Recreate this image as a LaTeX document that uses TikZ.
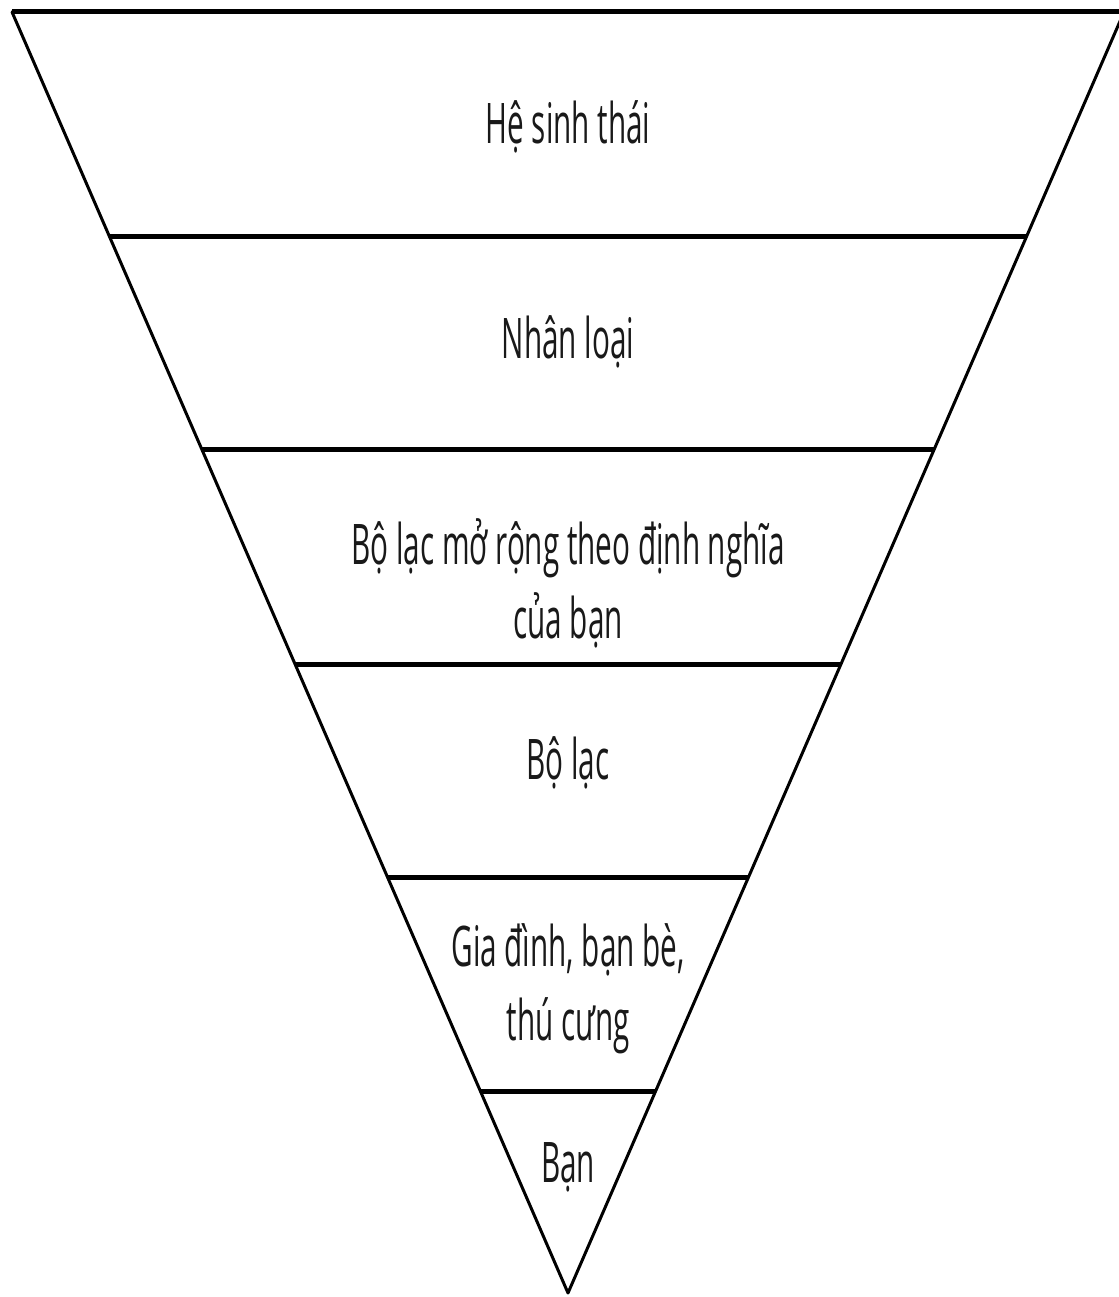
\documentclass[tikz,border=0pt]{standalone}
\usepackage{fontspec}
\newfontfamily\lbl[FakeStretch=0.53]{Open Sans}
\begin{document}
\begin{tikzpicture}[x=1pt,y=1pt,
  side/.style={line width=3pt,line cap=round,line join=round},
  band/.style={line width=5pt},
  lab/.style={font=\lbl\fontsize{56}{74}\selectfont,align=center,text=black!90,inner sep=0pt}]
\useasboundingbox (0,0) rectangle (1118,1297);
\coordinate (TL) at (12,1285);
\coordinate (TR) at (1124,1285);
\coordinate (AP) at (568,4);
% side points
\path (TL) -- (AP) coordinate[pos=0.1749] (L1) coordinate[pos=0.3412] (L2)
  coordinate[pos=0.5090] (L3) coordinate[pos=0.6760] (L4) coordinate[pos=0.8431] (L5);
\path (TR) -- (AP) coordinate[pos=0.1749] (R1) coordinate[pos=0.3412] (R2)
  coordinate[pos=0.5090] (R3) coordinate[pos=0.6760] (R4) coordinate[pos=0.8431] (R5);
\draw[side] (TL) -- (AP) -- (TR);
\draw[band] (TL) -- (TR);
\draw[band] (L1) -- (R1);
\draw[band] (L2) -- (R2);
\draw[band] (L3) -- (R3);
\draw[band] (L4) -- (R4);
\draw[band] (L5) -- (R5);
\node[lab] (n1) at (568,1170) {Hệ sinh thái};
\node[lab] (n2) at (568,955) {Nhân loại};
\node[lab] (n3) at (568,714) {Bộ lạc mở rộng theo định nghĩa\\của bạn};
\node[lab] (n4) at (568,534) {Bộ lạc};
\node[lab] (n5) at (568,308) {Gia đình, bạn bè,\\thú cưng};
\node[lab] (n6) at (568,130) {Bạn};
\end{tikzpicture}
\end{document}
